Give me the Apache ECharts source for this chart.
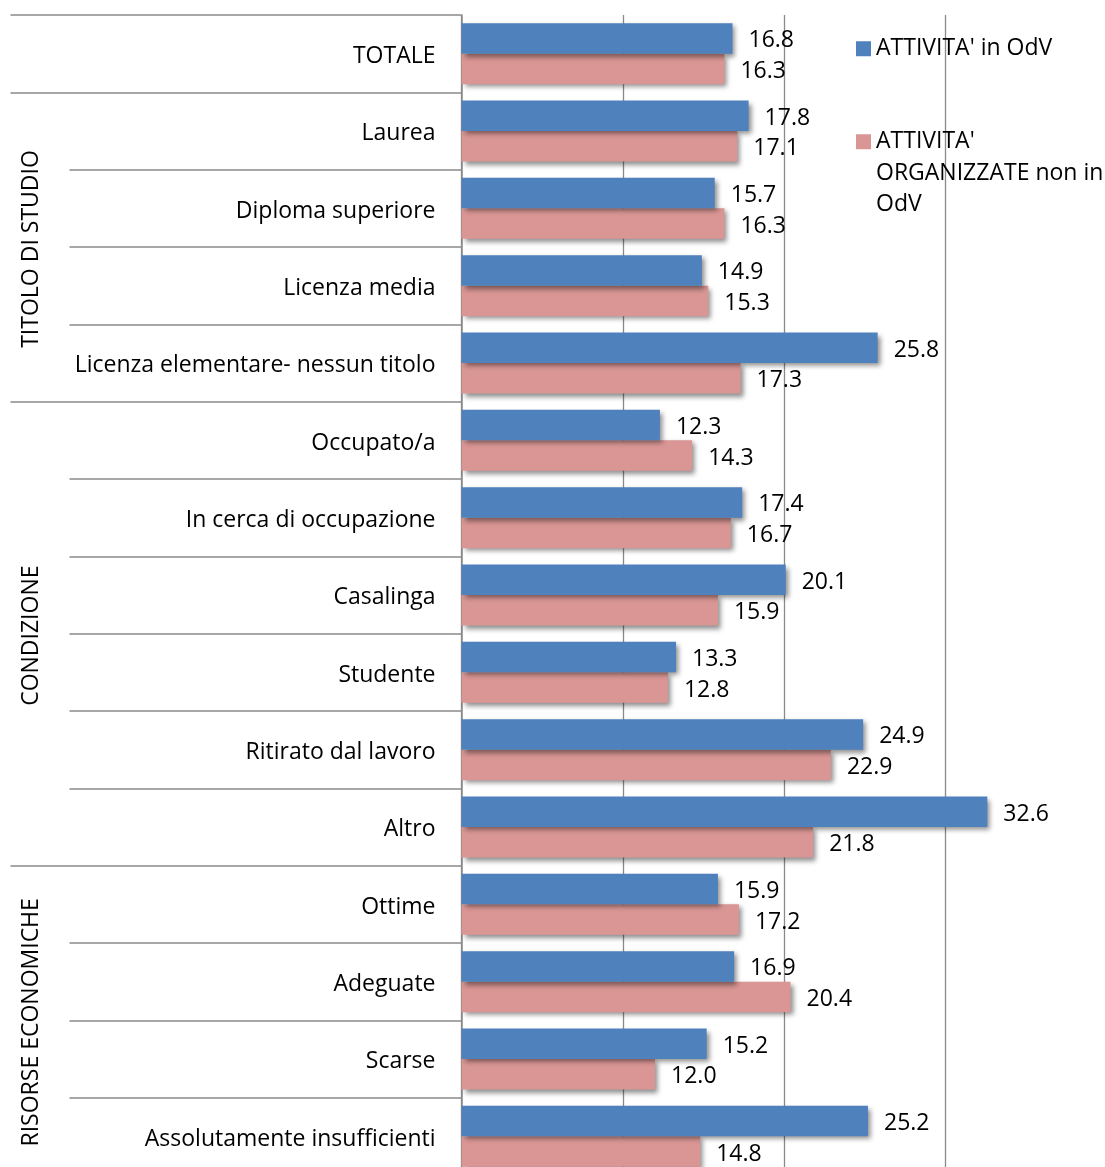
<!DOCTYPE html>
<html>
<head>
<meta charset="utf-8">
<script src="https://cdn.jsdelivr.net/npm/echarts@6/dist/echarts.min.js"></script>
<style>
  html, body { margin: 0; padding: 0; background: #ffffff; }
  #chart { width: 1105px; height: 1167px; }
</style>
</head>
<body>
<div id="chart"></div>
<script>
// Categories, top to bottom
const categories = [
  'TOTALE',
  'Laurea',
  'Diploma superiore',
  'Licenza media',
  'Licenza elementare- nessun titolo',
  'Occupato/a',
  'In cerca di occupazione',
  'Casalinga',
  'Studente',
  'Ritirato dal lavoro',
  'Altro',
  'Ottime',
  'Adeguate',
  'Scarse',
  'Assolutamente insufficienti'
];

const seriesNames = ["ATTIVITA' in OdV", "ATTIVITA' ORGANIZZATE non in OdV"];

const odvValues    = [16.8, 17.8, 15.7, 14.9, 25.8, 12.3, 17.4, 20.1, 13.3, 24.9, 32.6, 15.9, 16.9, 15.2, 25.2];
const nonOdvValues = [16.3, 17.1, 16.3, 15.3, 17.3, 14.3, 16.7, 15.9, 12.8, 22.9, 21.8, 17.2, 20.4, 12.0, 14.8];

// Category groups shown as rotated headings on the left
const groupNames = ['TITOLO DI STUDIO', 'CONDIZIONE', 'RISORSE ECONOMICHE'];
const groupFirst = [1, 5, 11];
const groupLast  = [4, 10, 14];

// Value axis ticks
const xTicks = [0, 10, 20, 30, 40];

const FONT = '"Open Sans", "Noto Sans", sans-serif';
const FONT_SIZE = 23;
const GRID_GRAY = '#8a8a8a';

const chart = echarts.init(document.getElementById('chart'), null, { renderer: 'canvas' });

// Rows where a group starts get a longer separator line
const groupBoundaries = [0].concat(groupFirst);

const barShadow = {
  shadowColor: 'rgba(0,0,0,0.45)',
  shadowBlur: 5,
  shadowOffsetX: 3,
  shadowOffsetY: 3
};

const valueLabel = {
  show: true,
  position: 'right',
  distance: 16,
  offset: [0, 2.5],
  color: '#000000',
  fontFamily: FONT,
  fontSize: FONT_SIZE,
  formatter: p => p.value.toFixed(1)
};

// The wrapped legend entry: two blank leading lines keep the marker level with its first line
const wrappedLegendText = "\n\nATTIVITA'\nORGANIZZATE non in\nOdV";

chart.setOption({
  animation: false,
  backgroundColor: '#ffffff',
  textStyle: { fontFamily: FONT },
  grid: {
    left: 461.5,
    top: 15,
    width: 645.2,
    height: 1160,
    containLabel: false,
    outerBoundsMode: 'none'
  },
  legend: [
    {
      data: [seriesNames[0]],
      orient: 'vertical',
      left: 856,
      top: 33,
      padding: 0,
      itemWidth: 15,
      itemHeight: 15,
      selectedMode: false,
      icon: 'rect',
      textStyle: { fontFamily: FONT, fontSize: FONT_SIZE, color: '#000', lineHeight: 31.5 }
    },
    {
      data: [seriesNames[1]],
      orient: 'vertical',
      left: 856,
      top: 63,
      padding: 0,
      itemWidth: 15,
      itemHeight: 15,
      selectedMode: false,
      icon: 'rect',
      formatter: () => wrappedLegendText,
      textStyle: { fontFamily: FONT, fontSize: FONT_SIZE, color: '#000', lineHeight: 31.5 }
    }
  ],
  xAxis: {
    type: 'value',
    min: xTicks[0],
    max: xTicks[xTicks.length - 1],
    interval: xTicks[1] - xTicks[0],
    axisLine: { show: false },
    axisTick: { show: false },
    axisLabel: { show: false },
    splitLine: { show: true, lineStyle: { color: GRID_GRAY, width: 1.3 } }
  },
  yAxis: [
    {
      type: 'category',
      data: categories,
      inverse: true,
      position: 'left',
      axisLine: { show: true, lineStyle: { color: GRID_GRAY, width: 1.5 } },
      axisTick: { show: true, interval: 0, length: 392, lineStyle: { color: GRID_GRAY, width: 1.5 } },
      axisLabel: {
        margin: 26,
        color: '#000',
        fontFamily: FONT,
        fontSize: FONT_SIZE,
        interval: 0,
        // a thin line box hung from the row centre sets the text slightly below it
        verticalAlign: 'top',
        lineHeight: 5.5
      }
    },
    {
      type: 'category',
      data: categories,
      inverse: true,
      position: 'left',
      offset: 0,
      axisLine: { show: false },
      axisLabel: { show: false },
      splitLine: { show: false },
      axisTick: {
        show: true,
        length: 451,
        interval: (idx) => groupBoundaries.indexOf(idx) >= 0,
        lineStyle: { color: GRID_GRAY, width: 1.5 }
      }
    }
  ],
  series: [
    {
      name: seriesNames[0],
      type: 'bar',
      data: odvValues,
      barWidth: 30.5,
      barGap: '0%',
      itemStyle: Object.assign({ color: '#4f81bd' }, barShadow),
      label: valueLabel,
      z: 3
    },
    {
      name: seriesNames[1],
      type: 'bar',
      data: nonOdvValues,
      barWidth: 30.5,
      barGap: '0%',
      itemStyle: Object.assign({ color: '#d99694' }, barShadow),
      label: valueLabel,
      z: 2
    }
  ]
});

// Group headings, centred on the span of their categories
const yPix = name => chart.convertToPixel({ yAxisIndex: 0 }, name);
chart.setOption({
  graphic: groupNames.map((g, i) => ({
    type: 'text',
    x: 31,
    y: (yPix(categories[groupFirst[i]]) + yPix(categories[groupLast[i]])) / 2 + 2,
    rotation: Math.PI / 2,
    style: {
      text: g,
      fontFamily: FONT,
      fontSize: FONT_SIZE,
      fill: '#000',
      align: 'center',
      verticalAlign: 'middle'
    }
  }))
});
</script>
</body>
</html>
